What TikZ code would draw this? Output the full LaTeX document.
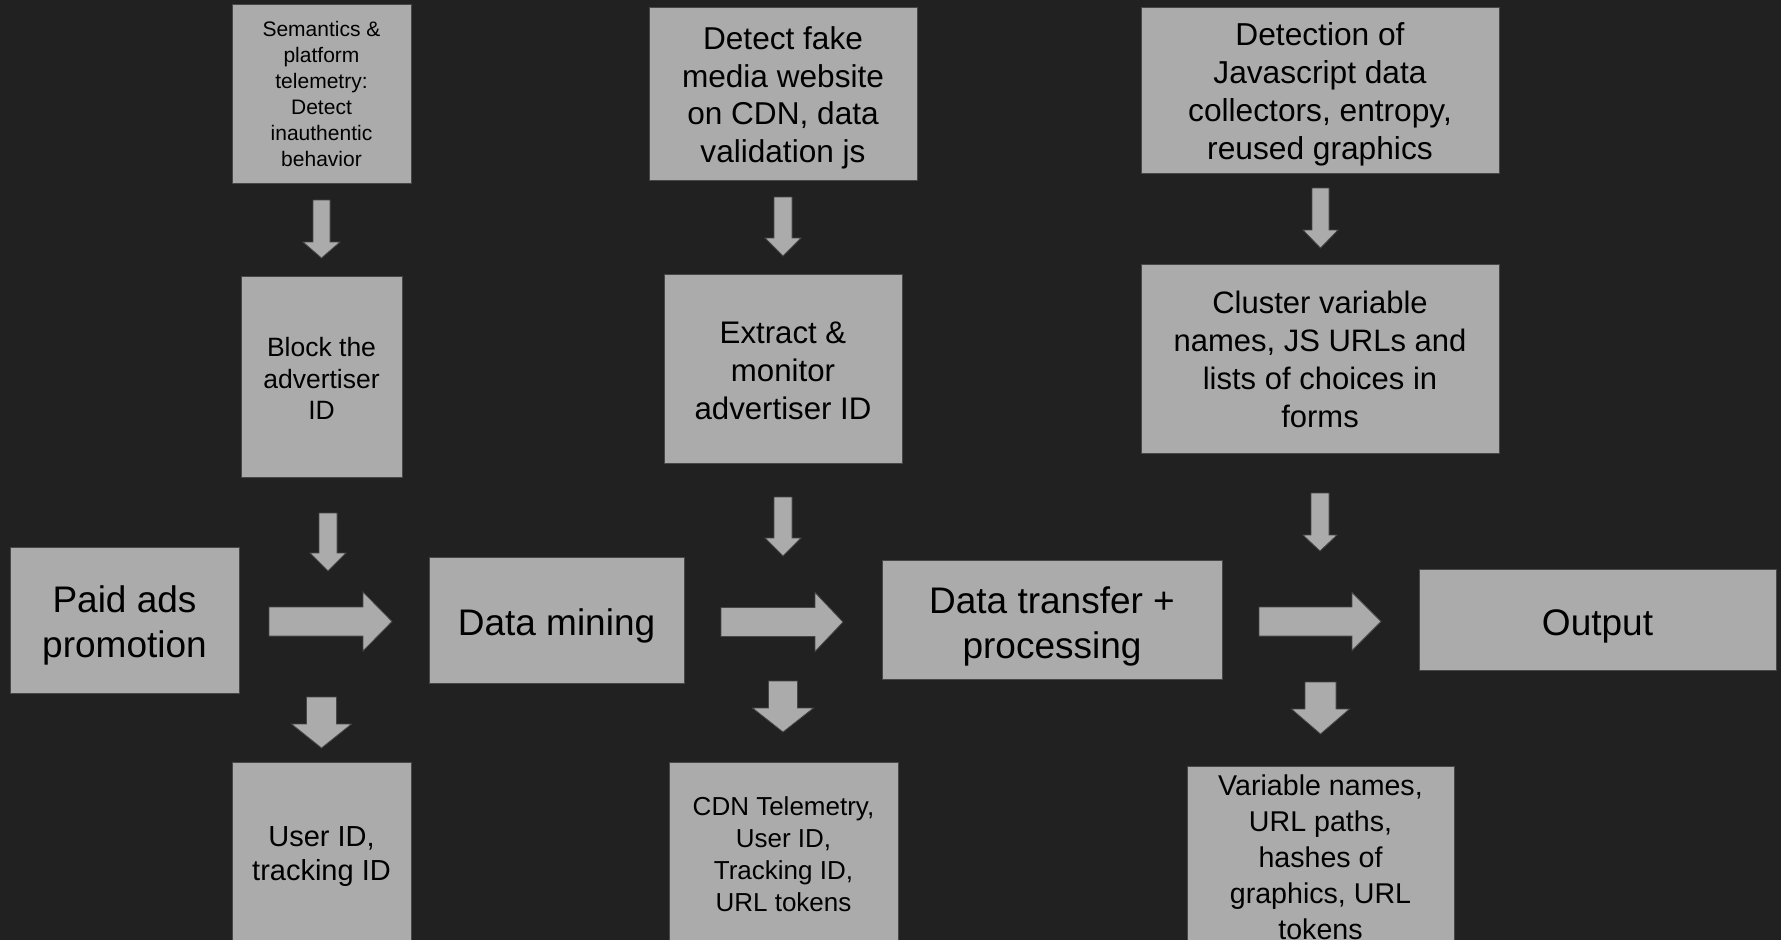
\documentclass[tikz,border=0pt]{standalone}
\usepackage{fontspec}
\setmainfont{Liberation Sans}
\definecolor{bg}{HTML}{212121}
\definecolor{boxfill}{HTML}{ABABAB}
\definecolor{boxline}{HTML}{474747}
\newcommand\blkdown[6]{%
  \filldraw[blk] ({#1-#3},#2) -- ({#1+#3},#2) -- ({#1+#3},#4) -- ({#1+#5},#4)
    -- (#1,#6) -- ({#1-#5},#4) -- ({#1-#3},#4) -- cycle;}
\newcommand\blkright[6]{%
  \filldraw[blk] (#1,{#2-#3}) -- (#4,{#2-#3}) -- (#4,{#2-#5}) -- (#6,#2)
    -- (#4,{#2+#5}) -- (#4,{#2+#3}) -- (#1,{#2+#3}) -- cycle;}
% box: name, cx, cy, w, h, font size, text shift down, text
\newcommand\bx[8]{%
  \node[box, minimum width=#4pt, minimum height=#5pt] (#1) at (#2,#3) {};
  \node[txt, font=\fontsize{#6}{1.2*#6}\selectfont] (#1-t) at ([yshift=-#7pt]#1.center) {#8};}
\begin{document}
\begin{tikzpicture}[x=1pt,y=-1pt,
  box/.style={draw=boxline, fill=boxfill, line width=1pt, inner sep=0pt},
  txt/.style={inner sep=0pt, align=center, text=black},
  blk/.style={fill=boxfill, draw=boxline, line width=0.8pt, line join=miter}]
\fill[bg] (0,0) rectangle (1781,940);
\useasboundingbox (0,0) rectangle (1781,940);

% top row
\node[box, minimum width=179pt, minimum height=179pt] (sem) at (321.5,93.5) {};
\node[txt, font=\fontsize{21}{26}\selectfont] (sem-t) at (sem.center)
  {Semantics \&\\platform\\telemetry:\\Detect\\inauthentic\\behavior};
\node[box, minimum width=268pt, minimum height=173pt] (fake) at (783,93.5) {};
\node[txt, font=\fontsize{31.6}{37.5}\selectfont] (fake-t) at ([yshift=-4.5pt]fake.center)
  {Detect fake\\media website\\on CDN, data\\validation js};
\node[box, minimum width=358pt, minimum height=166pt] (jsdet) at (1320,90) {};
\node[txt, font=\fontsize{31.7}{38}\selectfont] (jsdet-t) at ([yshift=-4.5pt]jsdet.center)
  {Detection of\\Javascript data\\collectors, entropy,\\reused graphics};

% second row
\node[box, minimum width=161pt, minimum height=201pt] (block) at (321.5,376.5) {};
\node[txt, font=\fontsize{26.5}{31.5}\selectfont] (block-t) at ([yshift=-2pt]block.center)
  {Block the\\advertiser\\ID};
\node[box, minimum width=238pt, minimum height=189pt] (extract) at (783,368.5) {};
\node[txt, font=\fontsize{31.2}{38}\selectfont] (extract-t) at ([yshift=-2pt]extract.center)
  {Extract \&\\monitor\\advertiser ID};
\node[box, minimum width=358pt, minimum height=189pt] (cluster) at (1320,358.5) {};
\node[txt, font=\fontsize{31}{38}\selectfont] (cluster-t) at ([yshift=-1pt]cluster.center)
  {Cluster variable\\names, JS URLs and\\lists of choices in\\forms};

% main row
\node[box, minimum width=229pt, minimum height=146pt] (paid) at (124.5,620) {};
\node[txt, font=\fontsize{37}{45}\selectfont] (paid-t) at ([yshift=-5.7pt]paid.center)
  {Paid ads\\promotion};
\node[box, minimum width=255pt, minimum height=126pt] (mining) at (556.5,620) {};
\node[txt, font=\fontsize{37}{45}\selectfont] (mining-t) at ([yshift=-5.7pt]mining.center)
  {Data mining};
\node[box, minimum width=340pt, minimum height=119pt] (transfer) at (1052,619.5) {};
\node[txt, font=\fontsize{37}{45}\selectfont] (transfer-t) at ([yshift=-6.5pt]transfer.center)
  {Data transfer +\\processing};
\node[box, minimum width=357pt, minimum height=101pt] (output) at (1597.5,619.5) {};
\node[txt, font=\fontsize{37}{45}\selectfont] (output-t) at ([yshift=-6.5pt]output.center)
  {Output};

% bottom row
\node[box, minimum width=179pt, minimum height=180pt] (user) at (321.5,852) {};
\node[txt, font=\fontsize{29}{34}\selectfont] (user-t) at ([yshift=-4.5pt]user.center)
  {User ID,\\tracking ID};
\node[box, minimum width=229pt, minimum height=182pt] (cdn) at (783.5,853) {};
\node[txt, font=\fontsize{26}{32}\selectfont] (cdn-t) at ([yshift=-1pt]cdn.center)
  {CDN Telemetry,\\User ID,\\Tracking ID,\\URL tokens};
\node[box, minimum width=267pt, minimum height=182pt] (var) at (1320.5,857) {};
\node[txt, font=\fontsize{28.6}{36}\selectfont] (var-t) at (var.center)
  {Variable names,\\URL paths,\\hashes of\\graphics, URL\\tokens};

% block arrows: top
\blkdown{321.5}{200}{8.5}{242}{18.5}{258}
\blkdown{783}{197}{9}{238}{18}{256}
\blkdown{1320.5}{188}{8.5}{230}{17.5}{248}
% block arrows: middle
\blkdown{328}{513}{9}{553}{18}{571}
\blkdown{783}{497}{9}{538}{18}{556}
\blkdown{1320}{493}{9}{535}{17}{551}
% block arrows: bottom
\blkdown{321.5}{697}{15}{724}{30}{748}
\blkdown{783}{681}{14.5}{708}{30.5}{732}
\blkdown{1320.5}{682}{15.5}{709}{29}{734}
% block arrows: right
\blkright{269}{621.5}{14.5}{363}{29.5}{392}
\blkright{721}{622}{14.5}{815}{29.5}{843}
\blkright{1259}{621.5}{14.5}{1352}{29}{1381}
\end{tikzpicture}
\end{document}
